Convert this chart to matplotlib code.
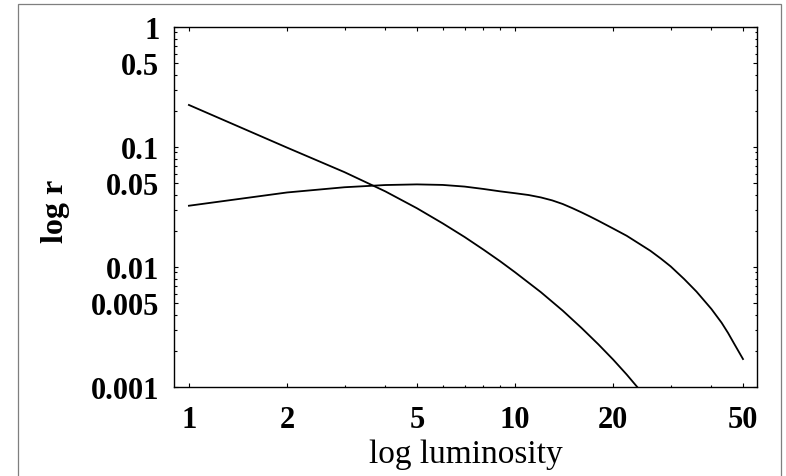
import matplotlib
matplotlib.use("Agg")
import matplotlib.pyplot as plt
from matplotlib.ticker import FixedLocator, FixedFormatter, NullFormatter
from matplotlib.patches import Rectangle

# Data
x_a = [1, 2, 3, 4, 5, 6, 7, 8, 9, 10, 12, 14, 16, 18, 20, 22, 24]
r_a = [0.224, 0.0988, 0.0617, 0.0427, 0.0309, 0.0231, 0.0178, 0.01396, 0.01117,
       0.00904, 0.00617, 0.00433, 0.00310, 0.00227, 0.00169, 0.00127, 0.00096]

x_b = [1, 2, 3, 4, 5, 6, 7, 8, 9, 10, 11, 12, 13, 14, 15, 16, 17, 18, 20, 22, 24,
       26, 28, 30, 33, 36, 40, 43, 45, 47, 50]
r_b = [0.0324, 0.0418, 0.0462, 0.0482, 0.0488, 0.0483, 0.0468, 0.0447, 0.0427,
       0.0412, 0.0398, 0.0380, 0.0359, 0.0335, 0.0309, 0.0285, 0.0263, 0.0243,
       0.0209, 0.0182, 0.01567, 0.01365, 0.01175, 0.01012, 0.00794, 0.00624,
       0.00447, 0.00343, 0.00282, 0.00229, 0.00171]

x_major = [1, 2, 5, 10, 20, 50]
x_major_labels = ["1", "2", "5", "10", "20", "50"]
x_minor = [3, 4, 6, 7, 8, 9, 30, 40]
y_major = [0.001, 0.005, 0.01, 0.05, 0.1, 0.5, 1]
y_major_labels = ["0.001", "0.005", "0.01", "0.05", "0.1", "0.5", "1"]
y_minor = [m * 10.0 ** e for e in (-3, -2, -1) for m in (2, 3, 4, 6, 7, 8, 9)]

plt.rcParams['font.family'] = ['Liberation Serif', 'DejaVu Serif']

W, H = 786, 477
fig = plt.figure(figsize=(W / 100, H / 100), dpi=100)
ax = fig.add_axes([174 / W, (H - 388) / H, (757 - 174) / W, (388 - 28) / H])

ax.plot(x_a, r_a, color='black', lw=1.3)
ax.plot(x_b, r_b, color='black', lw=1.3)

ax.set_xscale('log')
ax.set_yscale('log')
ax.set_xlim(0.90, 55.2)
ax.set_ylim(0.001, 1)

ax.xaxis.set_major_locator(FixedLocator(x_major))
ax.xaxis.set_major_formatter(FixedFormatter(x_major_labels))
ax.xaxis.set_minor_locator(FixedLocator(x_minor))
ax.xaxis.set_minor_formatter(NullFormatter())
ax.yaxis.set_major_locator(FixedLocator(y_major))
ax.yaxis.set_major_formatter(FixedFormatter(y_major_labels))
ax.yaxis.set_minor_locator(FixedLocator(y_minor))
ax.yaxis.set_minor_formatter(NullFormatter())

ax.tick_params(which='both', direction='in', top=True, right=True, width=0.8, color='black')
ax.tick_params(which='major', length=3.2)
ax.tick_params(which='minor', length=1.8)
ax.tick_params(axis='x', which='major', labelsize=22, pad=13)
ax.tick_params(axis='y', which='major', labelsize=22, pad=10.5)
for lbl in ax.get_xticklabels() + ax.get_yticklabels():
    lbl.set_fontweight('bold')

for s in ax.spines.values():
    s.set_linewidth(1.0)
    s.set_color('black')

ax.set_xlabel('log luminosity', fontsize=24, va='baseline', ha='center')
ax.xaxis.set_label_coords(0.5, -(463 - 388) / 360)
ax.set_ylabel('log r', fontsize=23, fontweight='bold', va='center', ha='center')
ax.yaxis.set_label_coords(-(174 - 56) / 583, (388 - 211) / 360)

fig.add_artist(Rectangle((18 / W, -0.05), (781 - 18) / W, (1 - 5 / H) + 0.05,
                         transform=fig.transFigure, fill=False,
                         edgecolor='#7f7f7f', lw=0.9))

fig.savefig('out.png', dpi=100)
